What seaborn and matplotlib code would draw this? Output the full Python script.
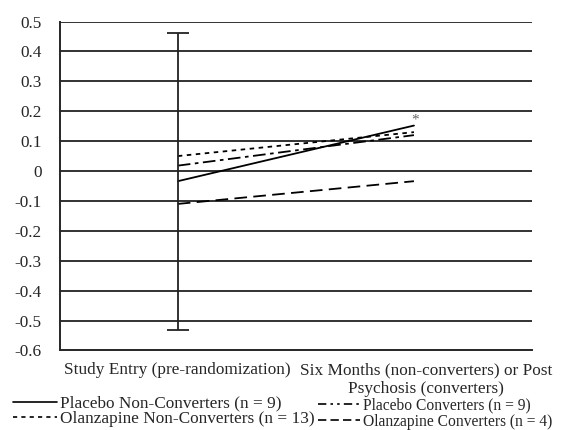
import numpy as np
import pandas as pd
import seaborn as sns
import matplotlib.pyplot as plt
import matplotlib.transforms as mtransforms
from matplotlib.lines import Line2D

# data
timepoints = ['Study Entry (pre-randomization)',
              'Six Months (non-converters) or Post\nPsychosis (converters)']
groups = ['Placebo Non-Converters (n = 9)', 'Olanzapine Non-Converters (n = 13)',
          'Placebo Converters (n = 9)', 'Olanzapine Converters (n = 4)']
entry_vals = [-0.034, 0.050, 0.018, -0.110]
followup_vals = [0.152, 0.130, 0.120, -0.034]
err_top = 0.46
err_bottom = -0.533

styles = {groups[0]: '-', groups[1]: (0, (2.5, 2.5)),
          groups[2]: (0, (7, 2.5, 2, 2.5)), groups[3]: (0, (7, 3.5))}
legend_styles = {groups[0]: '-', groups[1]: (0, (2.5, 2.5)),
                 groups[2]: (0, (5, 2.5, 1.5, 2.5, 1.5, 2.5)), groups[3]: (0, (5, 2.5))}

df = pd.DataFrame({
    'time': timepoints * len(groups),
    'group': np.repeat(groups, 2),
    'value': [v for pair in zip(entry_vals, followup_vals) for v in pair],
})

sns.set_style('white')
plt.rcParams['font.family'] = ['Liberation Serif', 'DejaVu Serif']
fs = 12.4

fig = plt.figure(figsize=(5.69, 4.30), dpi=100)
ax = fig.add_axes([0.105, 0.185, 0.83, 0.765])

for yv in np.arange(-0.5, 0.51, 0.1):
    ax.axhline(yv, color='#222222', lw=1.3, zorder=1)

for g in groups:
    sub = df[df['group'] == g]
    sns.lineplot(data=sub, x='time', y='value', ax=ax, color='black', lw=1.3,
                 linestyle=styles[g], sort=False, legend=False, zorder=3)

mid = (err_top + err_bottom) / 2
ax.errorbar([0], [mid], yerr=[[mid - err_bottom], [err_top - mid]], fmt='none',
            ecolor='#222222', elinewidth=1.3, capsize=8, capthick=1.3, zorder=4)
ax.annotate('*', xy=(1, followup_vals[0]), xytext=(1, -1), textcoords='offset points',
            fontsize=11, color='#666666', ha='center', va='bottom')

ax.set_xlim(-0.5, 1.5)
ax.set_ylim(-0.6, 0.5)
ax.set_yticks(np.round(np.arange(-0.6, 0.51, 0.1), 1))
ax.set_yticklabels(['-0.6', '-0.5', '-0.4', '-0.3', '-0.2', '-0.1', '0',
                    '0.1', '0.2', '0.3', '0.4', '0.5'])
ax.set_xticks([0, 1])
ax.set_xticklabels(timepoints)
ax.set_xlabel('')
ax.set_ylabel('')
for s in ['top', 'right']:
    ax.spines[s].set_visible(False)
ax.spines['left'].set_linewidth(1.4)
ax.spines['bottom'].set_linewidth(1.4)
ax.tick_params(axis='x', direction='inout', length=8, width=1.2, labelsize=fs, pad=4.5)
ax.tick_params(axis='y', direction='out', length=2, width=1.2, labelsize=fs, pad=11)
# second category label sits a little right of its tick in the original
shift = mtransforms.ScaledTranslation(12 / 100, 0, fig.dpi_scale_trans)
ax.get_xticklabels()[1].set_transform(ax.get_xticklabels()[1].get_transform() + shift)

handles = [Line2D([0], [0], color='black', lw=1.2, linestyle=legend_styles[g]) for g in groups]
fig.legend(handles[:2], groups[:2], loc='upper left', bbox_to_anchor=(0.023, 0.080),
           frameon=False, fontsize=fs, handlelength=2.55, handletextpad=0.2,
           labelspacing=-0.02, borderaxespad=0, borderpad=0)
fig.legend(handles[2:], groups[2:], loc='upper left', bbox_to_anchor=(0.559, 0.075),
           frameon=False, fontsize=11.2, handlelength=2.7, handletextpad=0.2,
           labelspacing=0.0, borderaxespad=0, borderpad=0)

plt.savefig('out.png', dpi=100)
